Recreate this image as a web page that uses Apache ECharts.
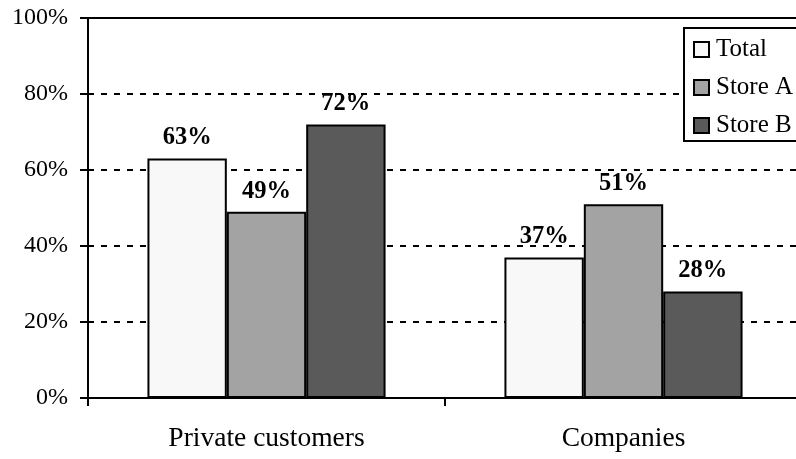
<!DOCTYPE html>
<html>
<head>
<meta charset="utf-8">
<script src="https://cdn.jsdelivr.net/npm/echarts@6/dist/echarts.min.js"></script>
<style>
  html, body { margin: 0; padding: 0; background: #fff; }
  #chart { width: 796px; height: 459px; }
</style>
</head>
<body>
<div id="chart"></div>
<script>
// Share of customers by type, per store (percent)
const categories = ['Private customers', 'Companies'];
const seriesNames = ['Total', 'Store A', 'Store B'];
const totalValues = [63, 37];
const storeAValues = [49, 51];
const storeBValues = [72, 28];
const yTicks = [0, 20, 40, 60, 80, 100];

const serif = 'Liberation Serif';
const fills = ['#f8f8f8', '#a3a3a3', '#5a5a5a'];
const valueSets = [totalValues, storeAValues, storeBValues];

const chart = echarts.init(document.getElementById('chart'), null, { renderer: 'canvas' });

chart.setOption({
  animation: false,
  backgroundColor: '#ffffff',
  textStyle: { fontFamily: serif, color: '#000' },
  grid: {
    left: 88, top: 18, width: 714, height: 380,
    outerBoundsMode: 'none',
    containLabel: false,
    show: true, borderColor: '#000', borderWidth: 2, backgroundColor: 'transparent'
  },
  legend: {
    orient: 'vertical',
    left: 684, top: 28,
    padding: [9, 40, 3, 9],
    itemGap: 13,
    itemWidth: 15, itemHeight: 15,
    backgroundColor: '#fff',
    borderColor: '#000', borderWidth: 2,
    icon: 'rect',
    textStyle: { fontFamily: serif, fontSize: 25, color: '#000', lineHeight: 25, padding: [0, 0, 0, 2] },
    data: seriesNames
  },
  xAxis: {
    type: 'category',
    data: categories,
    axisLine: { lineStyle: { color: '#000', width: 2 } },
    axisTick: { show: true, length: 8, lineStyle: { color: '#000', width: 2 } },
    axisLabel: { fontFamily: serif, fontSize: 27.5, color: '#000', margin: 27 },
    splitLine: { show: false }
  },
  yAxis: {
    type: 'value',
    min: yTicks[0], max: yTicks[yTicks.length - 1], interval: 20,
    axisLine: { show: true, lineStyle: { color: '#000', width: 2 } },
    axisTick: { show: true, length: 8, lineStyle: { color: '#000', width: 2 } },
    axisLabel: { fontFamily: serif, fontSize: 24, color: '#000', margin: 20, formatter: v => v + '%' },
    splitLine: { show: true, lineStyle: { color: '#000', width: 2, type: [6, 7] } }
  },
  series: seriesNames.map((name, i) => ({
    name: name,
    type: 'bar',
    data: valueSets[i],
    barGap: 0,
    barCategoryGap: '33.3%',
    itemStyle: { color: fills[i], borderColor: '#000', borderWidth: 2 },
    label: {
      show: true, position: 'top', distance: 8,
      fontFamily: serif, fontSize: 24.5, fontWeight: 'bold', color: '#000',
      formatter: p => p.value + '%'
    }
  }))
});
</script>
</body>
</html>
